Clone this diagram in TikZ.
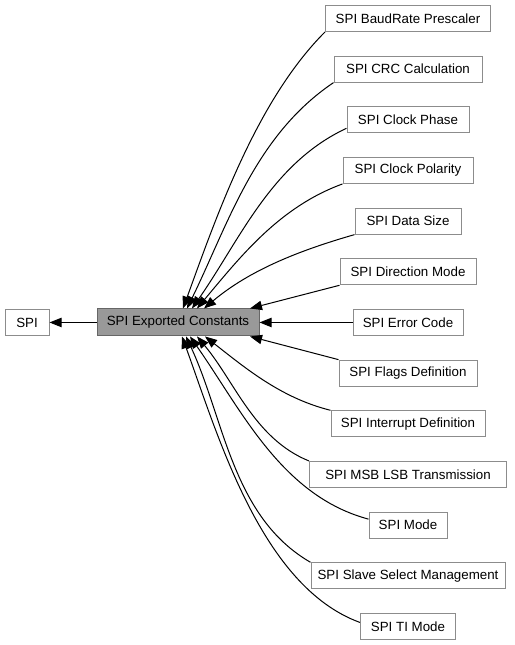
\documentclass[tikz,border=0pt]{standalone}
\usepackage{fontspec}
\setmainfont{Liberation Sans}
\usetikzlibrary{positioning, arrows.meta}

\definecolor{boxgray}{HTML}{8C8C8C}
\definecolor{curgray}{HTML}{666666}
\definecolor{curfill}{HTML}{999999}

\begin{document}
\begin{tikzpicture}[
mynode/.style={rectangle,
  draw=boxgray,
  line width=0.75pt,
  fill=white,
  minimum height=19.5pt,
  inner xsep=2pt,
  align=center,
  font=\fontsize{10pt}{12pt}\selectfont
},
mycurrent/.style={mynode,
  draw=curgray,
  fill=curfill,
  minimum height=20.25pt
},
myedge/.style={->,
  line width=0.75pt,
  black
},
>={Triangle[length=9pt,width=7pt]},
node distance=17.75pt
]

\useasboundingbox (0,0) rectangle (385.5pt,483.75pt);

\node[mynode, minimum width=33pt] (spi) at (20.25pt,241.9pt)
    {SPI};
\node[mycurrent, minimum width=121.5pt, right=35.25pt of spi] (constants)
    {SPI Exported Constants};
\node[mynode, minimum width=82.5pt, right=69.75pt of constants] (errorcode)
    {SPI Error Code};

% groups above
\node[mynode, minimum width=102pt, above=of errorcode] (direction)
    {SPI Direction Mode};
\node[mynode, minimum width=79.5pt, above=of direction] (datasize)
    {SPI Data Size};
\node[mynode, minimum width=97.5pt, above=of datasize] (polarity)
    {SPI Clock Polarity};
\node[mynode, minimum width=91.5pt, above=of polarity] (phase)
    {SPI Clock Phase};
\node[mynode, minimum width=111pt, above=of phase] (crc)
    {SPI CRC Calculation};
\node[mynode, minimum width=123.75pt, above=of crc] (baudrate)
    {SPI BaudRate Prescaler};

% groups below
\node[mynode, minimum width=103.5pt, below=of errorcode] (flags)
    {SPI Flags Definition};
\node[mynode, minimum width=115.5pt, below=of flags] (interrupt)
    {SPI Interrupt Definition};
\node[mynode, minimum width=147.75pt, below=of interrupt] (msblsb)
    {SPI MSB LSB Transmission};
\node[mynode, minimum width=58.5pt, below=of msblsb] (mode)
    {SPI Mode};
\node[mynode, minimum width=145.5pt, below=of mode] (slave)
    {SPI Slave Select Management};
\node[mynode, minimum width=71.25pt, below=of slave] (timode)
    {SPI TI Mode};

\draw[myedge] (constants) -- (spi);
\draw[myedge] (errorcode) -- (constants);

\draw[myedge] (baudrate.south west) to[out=225,in=70,looseness=0.8] ([xshift=3.75pt]constants.north);
\draw[myedge] (crc.south west) to[out=214,in=64,looseness=0.9] ([xshift=6.75pt]constants.north);
\draw[myedge] ([yshift=3.75pt]phase.south west) to[out=205,in=55,looseness=0.9] ([xshift=10.5pt]constants.north);
\draw[myedge] (polarity.south west) to[out=200,in=50,looseness=0.9] ([xshift=14.25pt]constants.north);
\draw[myedge] (datasize.south west) to[out=196,in=40,looseness=0.9] ([xshift=19.5pt]constants.north);
\draw[myedge] (direction.south west) -- ([xshift=54pt]constants.north);

\draw[myedge] (flags.north west) -- ([xshift=54pt]constants.south);
\draw[myedge] (interrupt.north west) to[out=166,in=-38,looseness=0.9] ([xshift=20.25pt]constants.south);
\draw[myedge] (msblsb.north west) to[out=158,in=-50,looseness=0.9] ([xshift=14.25pt]constants.south);
\draw[myedge] ([yshift=4.5pt]mode.west) to[out=165,in=-55,looseness=0.9] ([xshift=9pt]constants.south);
\draw[myedge] (slave.north west) to[out=150,in=-65,looseness=0.9] ([xshift=6pt]constants.south);
\draw[myedge] ([yshift=3pt]timode.west) to[out=160,in=-70,looseness=0.8] ([xshift=3pt]constants.south);
\end{tikzpicture}
\end{document}
